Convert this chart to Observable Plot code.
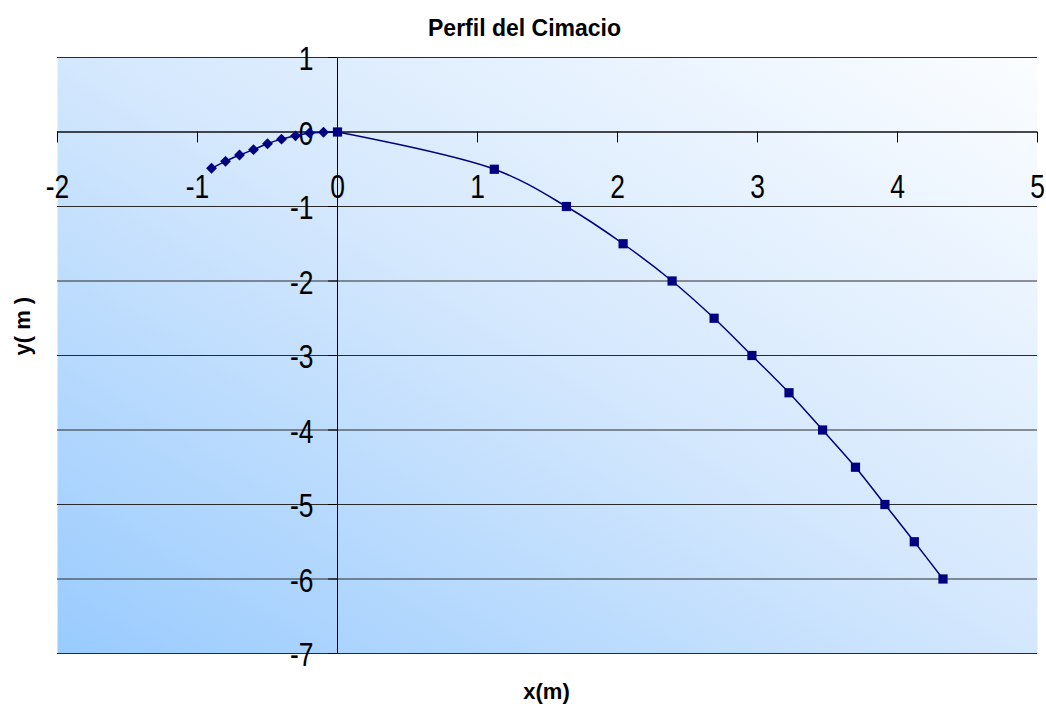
<!DOCTYPE html>
<html>
<head>
<meta charset="utf-8">
<script src="https://cdn.jsdelivr.net/npm/d3@7"></script>
<script src="https://cdn.jsdelivr.net/npm/@observablehq/plot@0.6"></script>
<style>
  html, body { margin: 0; padding: 0; background: #fff; }
  #chart svg { display: block; }
</style>
</head>
<body>
<div id="chart"></div>
<script>
// ---- data ----
const title = "Perfil del Cimacio";
const xLabel = "x(m)";
const yLabel = "y( m )";
// upstream profile (diamonds)
const upX = [-0.9, -0.8, -0.7, -0.6, -0.5, -0.4, -0.3, -0.2, -0.1];
const upY = [-0.486, -0.394, -0.309, -0.237, -0.157, -0.096, -0.052, -0.012, -0.004];
// downstream profile (squares)
const dsX = [0, 1.12, 1.635, 2.04, 2.39, 2.69, 2.96, 3.225, 3.465, 3.70, 3.91, 4.12, 4.325];
const dsY = [0, -0.5, -1, -1.5, -2, -2.5, -3, -3.5, -4, -4.5, -5, -5.5, -6];
// axes
const xTicks = [-2, -1, 0, 1, 2, 3, 4, 5];
const yTicks = [1, 0, -1, -2, -3, -4, -5, -6, -7];

const up = upX.map((x, i) => ({x, y: upY[i]}));
const ds = dsX.map((x, i) => ({x, y: dsY[i]}));
const upLine = up.concat([ds[0]]);

const navy = "#000080";
const tickFont = "'Liberation Sans', Arial, sans-serif";
const boldFont = "'Liberation Sans', Arial, sans-serif";
const tickShape = {draw(context, l) { context.moveTo(0, 0); context.lineTo(0, -l); }};

const svg = Plot.plot({
  width: 1046,
  height: 704,
  marginLeft: 57,
  marginRight: 9,
  marginTop: 57,
  marginBottom: 51,
  x: {domain: [-2, 5], axis: null},
  y: {domain: [-7, 1], axis: null},
  style: {background: "#fff", overflow: "visible"},
  marks: [
    Plot.frame({fill: "url(#bgGrad)"}),
    Plot.ruleY(yTicks, {y: d => d, stroke: "#2a2a2a", strokeWidth: 1}),
    Plot.ruleY([0], {stroke: "#000", strokeWidth: 1}),
    Plot.ruleX([0], {stroke: "#000", strokeWidth: 1}),
    // tick marks
    Plot.vector(xTicks, {x: d => d, y: 0, length: 10, rotate: 180, anchor: "start", shape: tickShape, stroke: "#000", strokeWidth: 1}),
    Plot.vector(yTicks, {x: 0, y: d => d, length: 9, rotate: 270, anchor: "start", shape: tickShape, stroke: "#000", strokeWidth: 1}),
    // tick labels
    Plot.text(xTicks, {x: d => d, y: 0, text: d => String(d), dy: 55, textAnchor: "middle", lineAnchor: "middle", fontSize: 33, fontFamily: tickFont, fill: "#000"}),
    Plot.text(yTicks, {x: 0, y: d => d, text: d => String(d), dx: -24, dy: 2, textAnchor: "end", lineAnchor: "middle", fontSize: 33, fontFamily: tickFont, fill: "#000"}),
    // series
    Plot.line(upLine, {x: "x", y: "y", stroke: navy, strokeWidth: 1.5, curve: "catmull-rom"}),
    Plot.line(ds, {x: "x", y: "y", stroke: navy, strokeWidth: 1.5, curve: "catmull-rom"}),
    Plot.dot(up, {x: "x", y: "y", symbol: "diamond2", r: 4.9, fill: navy, stroke: null}),
    Plot.dot(ds, {x: "x", y: "y", symbol: "square", r: 5.2, fill: navy, stroke: null}),
    // titles
    Plot.text([title], {frameAnchor: "top", dy: -29, dx: -23, text: d => d, fontSize: 23, fontWeight: "bold", fontFamily: boldFont, lineAnchor: "middle", fill: "#000"}),
    Plot.text([xLabel], {frameAnchor: "bottom", dy: 38, dx: -1, text: d => d, fontSize: 22, fontWeight: "bold", fontFamily: boldFont, lineAnchor: "middle", fill: "#000"}),
    Plot.text([yLabel], {frameAnchor: "left", dx: -35, dy: 0, rotate: -90, text: d => d, fontSize: 22, fontWeight: "bold", fontFamily: boldFont, lineAnchor: "middle", fill: "#000"})
  ]
});

// condense tick labels horizontally, like the original narrow face
svg.querySelectorAll("text").forEach(t => {
  const g = t.closest("g");
  const fs = (g && g.getAttribute("font-size")) || t.getAttribute("font-size");
  if (String(fs) !== "33") return;
  const tr = t.getAttribute("transform");
  if (tr) {
    t.setAttribute("transform", tr + " scale(0.8,1)");
  } else {
    const x = +(t.getAttribute("x") || 0), y = +(t.getAttribute("y") || 0);
    t.removeAttribute("x"); t.removeAttribute("y");
    t.setAttribute("transform", `translate(${x},${y}) scale(0.8,1)`);
  }
});

const ns = "http://www.w3.org/2000/svg";
const defs = document.createElementNS(ns, "defs");
defs.innerHTML = `<linearGradient id="bgGrad" x1="0" y1="1" x2="1" y2="0">
  <stop offset="0" stop-color="#99cbfe"/>
  <stop offset="0.5" stop-color="#d3e7fd"/>
  <stop offset="1" stop-color="#fbfdff"/>
</linearGradient>`;
svg.insertBefore(defs, svg.firstChild);
document.getElementById("chart").appendChild(svg);
</script>
</body>
</html>
